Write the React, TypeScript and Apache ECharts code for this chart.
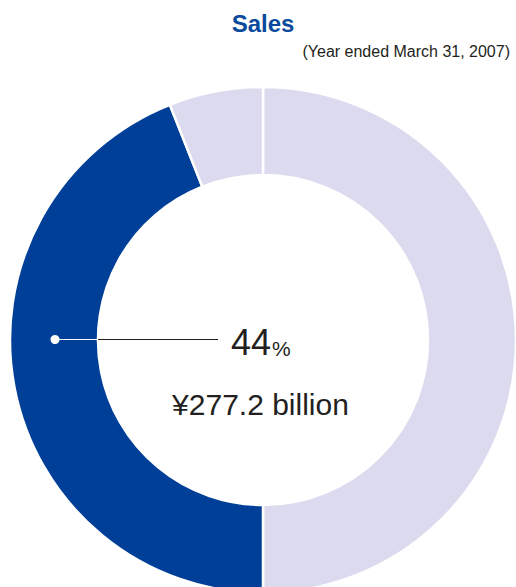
import React, { useEffect, useRef } from "react";
import * as echarts from "echarts";

const segmentNames = ["Other (right)", "Highlighted", "Other (top)"];
const segmentValues = [50, 44, 6];
const segmentColors = ["#dcdaee", "#003f98", "#dcdaee"];
const titleText = "Sales";
const subtitleText = "(Year ended March 31, 2007)";
const percentText = "44";
const amountText = "¥277.2 billion";

const CX = 263;
const CY = 340;
const R_OUT = 253;
const R_IN = 165;

export default function App() {
  const ref = useRef<HTMLDivElement>(null);
  useEffect(() => {
    if (!ref.current) return;
    const chart = echarts.init(ref.current, undefined, { renderer: "svg" });
    const font = "'Liberation Sans', Arial, Helvetica, sans-serif";
    const LY = 339.5;
    chart.setOption({
      animation: false,
      backgroundColor: "#ffffff",
      title: [
        {
          text: titleText,
          left: 258,
          top: 6,
          textAlign: "center",
          textStyle: { color: "#0a4a9c", fontSize: 24, fontWeight: "bold", fontFamily: font },
        },
        {
          text: subtitleText,
          right: 1,
          top: 38,
          textStyle: { color: "#231f20", fontSize: 16, fontWeight: "normal", fontFamily: font },
        },
      ],
      series: [
        {
          type: "pie",
          center: [CX, CY],
          radius: [R_IN, R_OUT],
          startAngle: 90,
          clockwise: true,
          silent: true,
          label: { show: false },
          labelLine: { show: false },
          itemStyle: { borderColor: "#ffffff", borderWidth: 2.5 },
          data: segmentValues.map((v, i) => ({
            name: segmentNames[i],
            value: v,
            itemStyle: { color: segmentColors[i] },
          })),
        },
      ],
      graphic: [
        {
          type: "line",
          shape: { x1: 55, y1: LY, x2: CX - R_IN, y2: LY },
          style: { stroke: "#ffffff", lineWidth: 1 },
          z: 10,
        },
        {
          type: "line",
          shape: { x1: CX - R_IN, y1: LY, x2: 218, y2: LY },
          style: { stroke: "#231f20", lineWidth: 1 },
          z: 10,
        },
        {
          type: "circle",
          shape: { cx: 55, cy: LY, r: 4.5 },
          style: { fill: "#ffffff" },
          z: 10,
        },
        {
          type: "text",
          x: 231,
          y: 342,
          style: {
            text: percentText,
            fill: "#231f20",
            font: `36px ${font}`,
            textVerticalAlign: "middle",
          },
          z: 10,
        },
        {
          type: "text",
          x: 272,
          y: 348,
          style: {
            text: "%",
            fill: "#231f20",
            font: `21px ${font}`,
            textVerticalAlign: "middle",
          },
          z: 10,
        },
        {
          type: "text",
          x: 260.5,
          y: 404,
          style: {
            text: amountText,
            fill: "#231f20",
            font: `30px ${font}`,
            textAlign: "center",
            textVerticalAlign: "middle",
          },
          z: 10,
        },
      ],
    });
    return () => chart.dispose();
  }, []);
  return (
    <div
      ref={ref}
      style={{ position: "fixed", left: 0, top: 0, width: 516, height: 587 }}
    />
  );
}
